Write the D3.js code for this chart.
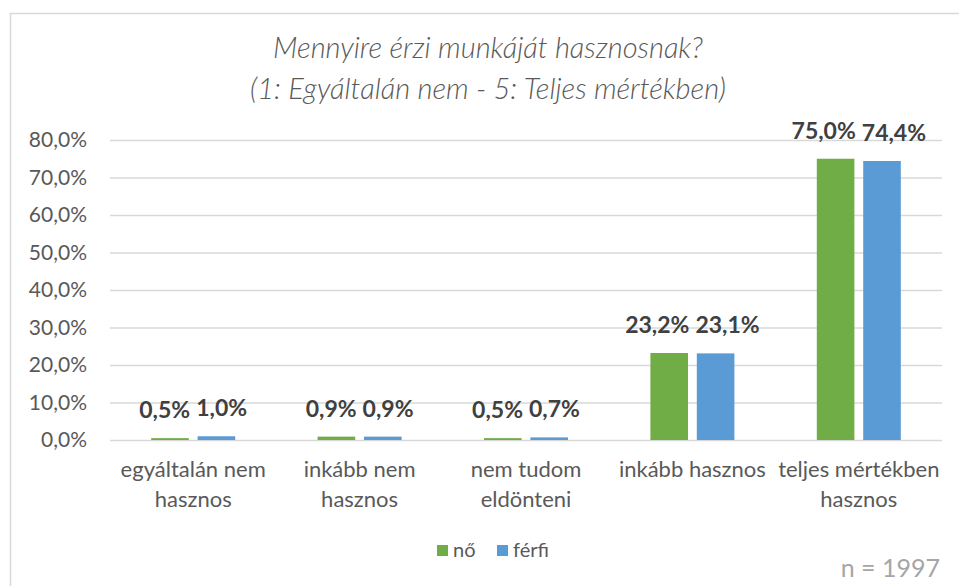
<!DOCTYPE html>
<html>
<head>
	<title>Mennyire érzi munkáját hasznosnak?</title>
	<script src="https://d3js.org/d3.v7.min.js"></script>
	<style>
		body { margin: 0; background: #fff; }
		svg { display: block; font-family: Lato, "Open Sans", sans-serif; }
	</style>
</head>
<body>
	<script type="text/javascript">
		// Categories (line breaks mark where the axis label wraps)
		var categories = ["egyáltalán nem\nhasznos", "inkább nem\nhasznos", "nem tudom\neldönteni", "inkább hasznos", "teljes mértékben\nhasznos"];
		var seriesNames = ["nő", "férfi"];
		var noValues = [0.5, 0.9, 0.5, 23.2, 75.0];
		var ferfiValues = [1.0, 0.9, 0.7, 23.1, 74.4];
		var yTicks = [0, 10, 20, 30, 40, 50, 60, 70, 80];
		var titleLines = ["Mennyire érzi munkáját hasznosnak?", "(1: Egyáltalán nem - 5: Teljes mértékben)"];
		var note = "n = 1997";

		var colors = ["#70ad47", "#5b9bd5"];
		var width = 959;
		var height = 586;

		// plot area
		var plotLeft = 110, plotRight = 942, plotTop = 140, plotBottom = 440;

		var fmt = function(v) { return v.toFixed(1).replace(".", ",") + "%"; };

		var svg = d3.select("body")
					.append("svg")
					.attr("width", width)
					.attr("height", height);

		// chart border (runs off the right and bottom edge)
		svg.append("rect")
		   .attr("x", 10.5)
		   .attr("y", 13.5)
		   .attr("width", 1000)
		   .attr("height", 1000)
		   .attr("fill", "none")
		   .attr("stroke", "#d9d9d9")
		   .attr("stroke-width", 1.5);

		var x0 = d3.scaleBand()
				   .domain(categories)
				   .range([plotLeft, plotRight]);

		var x1 = d3.scaleBand()
				   .domain(seriesNames)
				   .range([-42, 42])
				   .paddingInner(0.19);

		var y = d3.scaleLinear()
				  .domain([0, 80])
				  .range([plotBottom, plotTop]);

		// gridlines + y labels
		var yAxis = svg.append("g")
					   .attr("transform", "translate(" + plotLeft + ",0)")
					   .call(d3.axisLeft(y)
							   .tickValues(yTicks)
							   .tickSize(-(plotRight - plotLeft))
							   .tickPadding(23)
							   .tickFormat(fmt));
		yAxis.select(".domain").remove();
		yAxis.selectAll("line").attr("stroke", "#d9d9d9").attr("stroke-width", 1.3);
		yAxis.selectAll("text")
			 .attr("fill", "#595959")
			 .style("font-size", "21px")
			 .style("font-family", "Lato, sans-serif");

		// bars
		var rows = categories.map(function(c, i) {
			return { cat: c, values: [noValues[i], ferfiValues[i]] };
		});

		var groups = svg.selectAll(".grp")
						.data(rows)
						.enter()
						.append("g")
						.attr("class", "grp")
						.attr("transform", function(d) {
							return "translate(" + (x0(d.cat) + x0.bandwidth() / 2) + ",0)";
						});

		groups.selectAll("rect")
			  .data(function(d) { return d.values; })
			  .enter()
			  .append("rect")
			  .attr("x", function(d, i) { return x1(seriesNames[i]); })
			  .attr("y", function(d) { return y(d); })
			  .attr("width", x1.bandwidth())
			  .attr("height", function(d) { return plotBottom - y(d); })
			  .attr("fill", function(d, i) { return colors[i]; });

		// value labels above each bar
		groups.selectAll(".val")
			  .data(function(d) { return d.values; })
			  .enter()
			  .append("text")
			  .attr("class", "val")
			  .attr("x", function(d, i) { return x1(seriesNames[i]) + x1.bandwidth() / 2; })
			  .attr("y", function(d) { return y(d) - 20; })
			  .attr("text-anchor", "middle")
			  .attr("fill", "#404040")
			  .style("font-size", "23px")
			  .style("font-weight", "bold")
			  .text(fmt);

		// push the two labels of a group apart when they collide
		groups.each(function() {
			var labels = d3.select(this).selectAll(".val").nodes();
			var a = labels[0], b = labels[1];
			var ca = +a.getAttribute("x"), cb = +b.getAttribute("x");
			var need = (a.getComputedTextLength() + b.getComputedTextLength()) / 2 + 6;
			var shift = Math.max(0, (need - (cb - ca)) / 2);
			a.setAttribute("x", ca - shift);
			b.setAttribute("x", cb + shift);
		});

		// category labels, wrapped
		var catLabels = svg.selectAll(".cat")
						   .data(categories)
						   .enter()
						   .append("text")
						   .attr("class", "cat")
						   .attr("text-anchor", "middle")
						   .attr("fill", "#595959")
						   .style("font-size", "22px");
		catLabels.selectAll("tspan")
				 .data(function(d) { return d.split("\n").map(function(t) { return { t: t, c: d }; }); })
				 .enter()
				 .append("tspan")
				 .attr("x", function(d) { return x0(d.c) + x0.bandwidth() / 2; })
				 .attr("y", function(d, i) { return 477 + i * 30; })
				 .text(function(d) { return d.t; });

		// title
		svg.selectAll(".title")
		   .data(titleLines)
		   .enter()
		   .append("text")
		   .attr("class", "title")
		   .attr("x", 488)
		   .attr("y", function(d, i) { return 58 + i * 41; })
		   .attr("text-anchor", "middle")
		   .attr("fill", "#595959")
		   .style("font-size", "29px")
		   .style("font-style", "italic")
		   .style("font-weight", 300)
		   .text(function(d) { return d; });

		// legend
		var legendX = [437, 497];
		var legend = svg.selectAll(".leg")
						.data(seriesNames)
						.enter()
						.append("g")
						.attr("class", "leg")
						.attr("transform", function(d, i) { return "translate(" + legendX[i] + ",545)"; });
		legend.append("rect")
			  .attr("width", 11)
			  .attr("height", 11)
			  .attr("fill", function(d, i) { return colors[i]; });
		legend.append("text")
			  .attr("x", 16)
			  .attr("y", 12)
			  .attr("fill", "#595959")
			  .style("font-size", "20px")
			  .text(function(d) { return d; });

		// sample size note
		svg.append("text")
		   .attr("x", 940)
		   .attr("y", 577)
		   .attr("text-anchor", "end")
		   .attr("fill", "#a6a6a6")
		   .style("font-size", "25px")
		   .text(note);
	</script>
</body>
</html>
